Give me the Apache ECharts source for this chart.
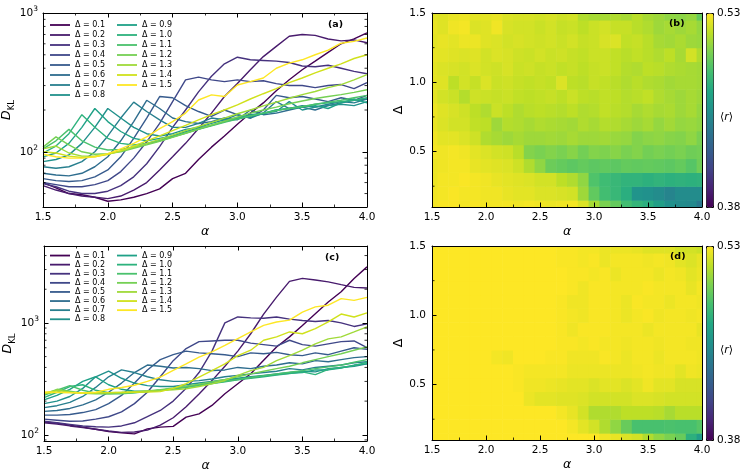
<!DOCTYPE html>
<html><head><meta charset="utf-8">
<script src="https://cdn.jsdelivr.net/npm/echarts@6/dist/echarts.min.js"></script>
<style>html,body{margin:0;padding:0;background:#fff}#c{width:748px;height:474px}</style>
</head><body><div id="c"></div>
<script>
// ---------------- data ----------------
const alpha = [1.5,1.6,1.7,1.8,1.9,2.0,2.1,2.2,2.3,2.4,2.5,2.6,2.7,2.8,2.9,3.0,3.1,3.2,3.3,3.4,3.5,3.6,3.7,3.8,3.9,4.0];
const deltas = [0.1,0.2,0.3,0.4,0.5,0.6,0.7,0.8,0.9,1.0,1.1,1.2,1.3,1.4,1.5];
const deltaNames = ['Δ = 0.1','Δ = 0.2','Δ = 0.3','Δ = 0.4','Δ = 0.5','Δ = 0.6','Δ = 0.7','Δ = 0.8','Δ = 0.9','Δ = 1.0','Δ = 1.1','Δ = 1.2','Δ = 1.3','Δ = 1.4','Δ = 1.5'];

// panel (a): D_KL per Δ
const a01 = [60,55,50,49,47,44,45,47,50,54,64,70,88,108,130,158,190,225,275,330,390,450,520,600,650,720];
const a02 = [57,53,50,48,47,46,48,53,60,74,92,115,147,190,250,310,390,485,575,680,700,690,650,630,640,610];
const a03 = [59,56,52,50,50,52,57,66,82,109,150,200,270,350,430,480,460,455,450,440,415,410,420,400,380,365];
const a04 = [60,58,56,56,58,62,72,90,118,160,230,330,345,330,320,330,320,325,310,300,300,290,300,305,285,315];
const a05 = [64,62,61,62,66,74,92,125,175,250,245,215,195,180,200,185,175,200,255,245,250,240,230,245,235,255];
const a06 = [70,68,67,70,78,92,120,165,235,205,175,165,160,165,175,170,200,185,190,200,210,200,215,225,235,240];
const a07 = [78,76,78,85,100,130,175,228,195,170,150,150,160,175,170,185,175,190,230,205,215,210,220,230,225,240];
const a08 = [85,88,95,115,150,205,175,150,135,130,135,145,150,160,170,175,185,190,195,230,200,210,215,220,215,230];
const a09 = [92,98,115,150,205,165,140,125,120,125,130,140,148,155,165,172,180,188,200,205,210,215,205,225,240,225];
const a10 = [98,110,135,185,150,125,115,112,115,120,128,137,146,155,165,175,182,190,200,205,210,220,225,230,235,245];
const a11 = [105,120,145,120,108,103,104,108,114,120,128,136,145,154,163,172,181,190,198,205,212,220,228,235,245,255];
const a12 = [108,128,112,100,96,97,100,106,112,119,127,136,146,156,166,178,190,200,210,222,232,242,250,258,268,280];
const a13 = [105,110,98,93,93,96,101,108,115,123,132,142,152,163,175,188,200,214,228,243,258,272,290,305,330,360];
const a14 = [100,98,93,91,92,96,102,110,120,130,142,155,170,185,200,218,240,262,285,315,340,370,400,430,470,500];
const a15 = [96,92,90,90,92,97,105,115,128,147,165,190,236,257,250,303,320,340,400,435,460,500,540,606,625,660];

// panel (c): D_KL per Δ
const c01 = [130,127,122,117,112,107,104,102,113,117,119,144,154,183,233,286,351,463,609,750,950,1210,1540,1900,2500,3170];
const c02 = [128,125,120,116,112,108,105,106,110,122,142,178,232,305,410,560,800,1200,1700,2350,2500,2420,2330,2200,2080,2050];
const c03 = [132,128,124,120,118,117,120,128,145,165,200,260,360,560,1000,1130,1110,1100,1130,1080,1050,1030,1050,1000,930,980];
const c04 = [138,135,132,133,138,145,160,190,240,330,460,590,680,690,700,700,660,640,620,700,640,620,650,680,690,600];
const c05 = [150,150,152,158,168,190,225,290,380,470,520,560,540,530,520,500,540,530,545,520,510,540,520,560,600,580];
const c06 = [162,165,172,185,205,240,290,360,420,410,395,400,390,375,380,400,390,410,420,440,430,460,450,470,490,500];
const c07 = [175,182,195,220,265,330,380,360,330,310,300,300,305,315,330,340,350,360,370,390,380,400,410,420,440,450];
const c08 = [190,200,220,260,330,370,320,290,275,270,270,280,290,300,310,320,330,340,350,360,370,365,390,400,410,430];
const c09 = [205,225,255,300,330,280,255,245,245,250,258,268,280,292,303,315,325,335,345,355,360,380,380,395,420,430];
const c10 = [215,240,270,280,250,238,235,238,243,250,258,266,276,287,298,310,320,330,342,352,365,345,385,400,415,445];
const c11 = [225,250,275,250,236,232,233,237,243,250,258,267,277,288,300,312,325,338,350,362,375,390,405,420,445,470];
const c12 = [230,255,245,235,232,233,236,240,246,253,262,272,284,297,312,330,350,370,390,410,440,470,500,530,570,610];
const c13 = [235,250,240,236,236,238,240,243,246,248,252,258,270,286,306,340,375,400,460,510,570,650,720,750,830,920];
const c14 = [235,240,238,236,237,238,239,240,241,243,260,286,328,375,430,510,570,700,750,830,800,890,1020,1200,1130,1230];
const c15 = [241,240,238,236,240,255,265,277,300,328,377,430,495,550,630,725,830,950,1020,1060,1250,1390,1440,1650,1590,1690];

// panel (b): <r> rows, Δ = 0.1 ... 1.5 (columns = alpha)
const b01 = [0.528,0.529,0.529,0.528,0.529,0.528,0.528,0.528,0.527,0.528,0.527,0.526,0.527,0.528,0.522,0.510,0.500,0.494,0.484,0.478,0.474,0.464,0.455,0.452,0.450,0.440];
const b02 = [0.527,0.528,0.529,0.528,0.528,0.527,0.527,0.525,0.524,0.524,0.522,0.522,0.521,0.520,0.508,0.493,0.484,0.480,0.474,0.457,0.455,0.452,0.447,0.452,0.452,0.452];
const b03 = [0.526,0.528,0.528,0.529,0.528,0.527,0.525,0.524,0.523,0.522,0.520,0.520,0.515,0.512,0.505,0.488,0.483,0.480,0.477,0.477,0.475,0.477,0.475,0.476,0.475,0.476];
const b04 = [0.526,0.527,0.528,0.528,0.525,0.524,0.523,0.522,0.519,0.512,0.505,0.496,0.494,0.492,0.494,0.492,0.493,0.492,0.494,0.493,0.494,0.493,0.492,0.494,0.490,0.497];
const b05 = [0.528,0.527,0.528,0.527,0.524,0.522,0.520,0.519,0.514,0.502,0.500,0.502,0.500,0.503,0.498,0.502,0.501,0.503,0.500,0.502,0.498,0.500,0.498,0.500,0.497,0.498];
const b06 = [0.527,0.524,0.524,0.522,0.519,0.512,0.510,0.508,0.510,0.508,0.508,0.509,0.508,0.510,0.508,0.508,0.509,0.507,0.506,0.502,0.504,0.505,0.503,0.502,0.505,0.500];
const b07 = [0.525,0.522,0.520,0.520,0.516,0.515,0.508,0.513,0.512,0.510,0.512,0.511,0.510,0.509,0.512,0.510,0.513,0.512,0.510,0.508,0.510,0.506,0.509,0.506,0.507,0.505];
const b08 = [0.526,0.523,0.521,0.519,0.515,0.512,0.518,0.515,0.512,0.514,0.515,0.514,0.513,0.515,0.512,0.513,0.516,0.514,0.513,0.510,0.512,0.510,0.511,0.508,0.510,0.506];
const b09 = [0.524,0.520,0.518,0.513,0.519,0.518,0.517,0.518,0.516,0.515,0.516,0.517,0.515,0.518,0.515,0.514,0.516,0.515,0.513,0.514,0.516,0.512,0.510,0.508,0.510,0.508];
const b10 = [0.524,0.523,0.515,0.520,0.517,0.522,0.518,0.519,0.517,0.516,0.517,0.516,0.522,0.515,0.514,0.517,0.516,0.514,0.512,0.514,0.512,0.511,0.509,0.510,0.510,0.509];
const b11 = [0.524,0.522,0.521,0.520,0.522,0.520,0.519,0.521,0.518,0.519,0.517,0.518,0.516,0.517,0.515,0.517,0.518,0.516,0.513,0.512,0.515,0.514,0.512,0.511,0.510,0.509];
const b12 = [0.525,0.524,0.523,0.522,0.523,0.520,0.522,0.521,0.519,0.518,0.520,0.518,0.519,0.517,0.516,0.518,0.518,0.516,0.514,0.516,0.514,0.512,0.515,0.510,0.520,0.512];
const b13 = [0.524,0.525,0.524,0.526,0.526,0.523,0.522,0.520,0.521,0.520,0.519,0.520,0.518,0.520,0.517,0.518,0.521,0.522,0.516,0.517,0.514,0.510,0.509,0.511,0.508,0.507];
const b14 = [0.525,0.523,0.527,0.528,0.522,0.523,0.527,0.521,0.520,0.520,0.518,0.520,0.517,0.518,0.515,0.518,0.520,0.517,0.517,0.514,0.512,0.508,0.510,0.508,0.510,0.506];
const b15 = [0.524,0.523,0.525,0.526,0.524,0.524,0.525,0.522,0.521,0.521,0.520,0.521,0.519,0.520,0.512,0.510,0.510,0.512,0.510,0.514,0.510,0.508,0.505,0.504,0.506,0.494];

// panel (d): <r> rows, Δ = 0.1 ... 1.5
const d01 = [0.530,0.530,0.530,0.530,0.530,0.530,0.530,0.530,0.530,0.530,0.530,0.530,0.530,0.530,0.530,0.530,0.527,0.525,0.522,0.520,0.512,0.505,0.500,0.495,0.475,0.462];
const d02 = [0.530,0.530,0.530,0.530,0.530,0.530,0.530,0.530,0.530,0.530,0.530,0.530,0.530,0.528,0.524,0.520,0.512,0.505,0.495,0.486,0.486,0.486,0.487,0.486,0.486,0.490];
const d03 = [0.530,0.530,0.530,0.530,0.530,0.530,0.530,0.530,0.530,0.530,0.530,0.530,0.528,0.525,0.520,0.512,0.512,0.512,0.515,0.515,0.515,0.514,0.510,0.514,0.514,0.514];
const d04 = [0.530,0.530,0.530,0.530,0.530,0.530,0.530,0.530,0.530,0.526,0.524,0.524,0.523,0.523,0.522,0.520,0.520,0.520,0.520,0.522,0.522,0.521,0.520,0.520,0.520,0.520];
const d05 = [0.530,0.530,0.530,0.530,0.530,0.530,0.530,0.530,0.529,0.527,0.527,0.526,0.525,0.524,0.524,0.522,0.524,0.524,0.522,0.524,0.527,0.524,0.524,0.521,0.521,0.521];
const d06 = [0.530,0.530,0.530,0.530,0.530,0.530,0.530,0.530,0.529,0.528,0.528,0.528,0.528,0.526,0.526,0.526,0.526,0.526,0.526,0.527,0.528,0.527,0.527,0.524,0.527,0.526];
const d07 = [0.530,0.530,0.530,0.530,0.530,0.530,0.528,0.527,0.530,0.530,0.530,0.529,0.529,0.527,0.527,0.527,0.529,0.528,0.526,0.528,0.528,0.526,0.528,0.528,0.528,0.527];
const d08 = [0.530,0.530,0.530,0.530,0.530,0.530,0.530,0.530,0.530,0.530,0.530,0.530,0.529,0.529,0.528,0.529,0.528,0.528,0.527,0.528,0.528,0.527,0.528,0.528,0.527,0.527];
const d09 = [0.530,0.530,0.530,0.530,0.530,0.530,0.530,0.530,0.530,0.530,0.530,0.530,0.529,0.527,0.529,0.529,0.529,0.528,0.528,0.528,0.526,0.528,0.528,0.528,0.528,0.525];
const d10 = [0.530,0.530,0.530,0.530,0.530,0.530,0.530,0.530,0.530,0.530,0.530,0.530,0.529,0.528,0.527,0.529,0.529,0.528,0.526,0.528,0.529,0.527,0.528,0.528,0.527,0.528];
const d11 = [0.530,0.530,0.530,0.530,0.530,0.530,0.530,0.530,0.530,0.530,0.530,0.530,0.529,0.527,0.527,0.529,0.529,0.528,0.526,0.529,0.528,0.528,0.526,0.528,0.528,0.527];
const d12 = [0.530,0.530,0.530,0.530,0.530,0.530,0.530,0.530,0.530,0.530,0.530,0.530,0.530,0.529,0.527,0.529,0.529,0.528,0.528,0.528,0.529,0.528,0.528,0.528,0.525,0.528];
const d13 = [0.530,0.530,0.530,0.530,0.530,0.530,0.530,0.530,0.530,0.530,0.530,0.530,0.530,0.529,0.529,0.528,0.529,0.526,0.528,0.528,0.528,0.526,0.528,0.527,0.524,0.526];
const d14 = [0.530,0.530,0.530,0.530,0.530,0.530,0.530,0.530,0.530,0.530,0.530,0.530,0.529,0.529,0.528,0.529,0.526,0.528,0.528,0.528,0.527,0.528,0.527,0.524,0.522,0.525];
const d15 = [0.530,0.530,0.530,0.530,0.530,0.530,0.530,0.530,0.530,0.530,0.530,0.530,0.529,0.529,0.528,0.528,0.526,0.526,0.526,0.525,0.523,0.523,0.523,0.520,0.520,0.518];

// axis decorations
const rMin = 0.38, rMax = 0.53;
const logMinorA = [50,60,70,80,90,200,300,400,500,600,700,800,900];
const logMinorC = [90,200,300,400,500,600,700,800,900,2000,3000,4000];
const deltaMinor = [0.25,0.75,1.25];

const seriesA = [a01,a02,a03,a04,a05,a06,a07,a08,a09,a10,a11,a12,a13,a14,a15];
const seriesC = [c01,c02,c03,c04,c05,c06,c07,c08,c09,c10,c11,c12,c13,c14,c15];
const rowsB = [b01,b02,b03,b04,b05,b06,b07,b08,b09,b10,b11,b12,b13,b14,b15];
const rowsD = [d01,d02,d03,d04,d05,d06,d07,d08,d09,d10,d11,d12,d13,d14,d15];

// ---------------- style ----------------
const FONT = 'DejaVu Sans';
const viridis = ['#440154','#482475','#414487','#355f8d','#2a788e','#21918c','#22a884','#44bf70','#7ad151','#bddf26','#fde725'];
const lineColors = ['#440154','#481b6d','#46327e','#3f4889','#375b8d','#2e6d8e','#277f8e','#21918c','#1fa187','#2db27d','#4ac16d','#75d054','#a0da39','#d0e11c','#fde725'];
const TL = 4.5, ML = 2.5;

const chart = echarts.init(document.getElementById('c'), null, {renderer: 'canvas'});

const grids = [
  {left: 43, top: 13, width: 324, height: 194},
  {left: 432, top: 13, width: 270, height: 194},
  {left: 44, top: 246, width: 323, height: 195},
  {left: 432, top: 246, width: 270, height: 194}
].map(g => Object.assign({show: false, outerBoundsMode: 'none'}, g));

const axLine = {show: true, onZero: false, lineStyle: {color: '#000', width: 1}};
const labelBase = {color: '#000', fontFamily: FONT, fontSize: 10.5};

function xAx(gridIndex, position, withLabels, withTicks) {
  return {
    type: 'value', gridIndex, position, z: 6,
    min: alpha[0], max: alpha[alpha.length - 1], interval: 0.5,
    axisLine: axLine,
    axisTick: {show: withTicks, inside: true, length: TL, lineStyle: {color: '#000', width: 1}},
    minorTick: {show: withTicks, splitNumber: 2, length: ML, lineStyle: {color: '#000', width: 0.8}},
    axisLabel: Object.assign({show: withLabels, margin: 5, formatter: v => v.toFixed(1)}, labelBase),
    splitLine: {show: false}, minorSplitLine: {show: false},
    name: withLabels ? 'α' : '', nameLocation: 'middle', nameGap: 18,
    nameTextStyle: {color: '#000', fontFamily: FONT, fontSize: 12.5, fontStyle: 'italic'}
  };
}
function powLabel(v) {
  const e = Math.log10(v), r = Math.round(e);
  if (Math.abs(e - r) > 1e-6) return '';
  return '{b|10}{s|' + r + '}';
}
function logY(gridIndex, position, min, max, withLabels) {
  return {
    type: 'log', logBase: 10, gridIndex, position, min, max, z: 6,
    axisLine: axLine,
    axisTick: {show: true, inside: true, length: TL, lineStyle: {color: '#000', width: 1}},
    minorTick: {show: false},
    axisLabel: {show: withLabels, margin: 5, formatter: powLabel, color: '#000',
      rich: {b: {fontFamily: FONT, fontSize: 10.5, color: '#000', lineHeight: 16, verticalAlign: 'middle'},
             s: {fontFamily: FONT, fontSize: 7.5, color: '#000', verticalAlign: 'top'}}},
    splitLine: {show: false},
    name: withLabels ? '{d|D}{k|KL}' : '', nameLocation: 'middle', nameGap: 20, nameRotate: 90,
    nameTextStyle: {color: '#000', rich: {
      d: {fontFamily: FONT, fontSize: 12.5, fontStyle: 'italic', color: '#000', lineHeight: 18, verticalAlign: 'middle'},
      k: {fontFamily: FONT, fontSize: 8.5, color: '#000', verticalAlign: 'bottom'}}}
  };
}
function deltaY(gridIndex, position, withLabels) {
  return {
    type: 'value', gridIndex, position, z: 6,
    min: deltas[0], max: deltas[deltas.length - 1], minInterval: 0.5, maxInterval: 0.5, splitNumber: 3,
    axisLine: axLine,
    axisTick: {show: withLabels, inside: true, length: TL, lineStyle: {color: '#000', width: 1}},
    minorTick: {show: false},
    axisLabel: Object.assign({show: withLabels, margin: 6,
      formatter: v => (Math.abs(v * 2 - Math.round(v * 2)) < 1e-6 ? v.toFixed(1) : '')}, labelBase),
    splitLine: {show: false},
    name: withLabels ? 'Δ' : '', nameLocation: 'middle', nameGap: 22,
    nameTextStyle: {color: '#000', fontFamily: FONT, fontSize: 12.5}
  };
}

const xAxis = [
  xAx(0, 'bottom', true, true), xAx(0, 'top', false, true),
  xAx(1, 'bottom', true, true), xAx(1, 'top', false, false),
  xAx(2, 'bottom', true, true), xAx(2, 'top', false, true),
  xAx(3, 'bottom', true, true), xAx(3, 'top', false, false)
];
const yAxis = [
  logY(0, 'left', 40, 1000, true), logY(0, 'right', 40, 1000, false),
  deltaY(1, 'left', true), deltaY(1, 'right', false),
  logY(2, 'left', 88, 4870, true), logY(2, 'right', 88, 4870, false),
  deltaY(3, 'left', true), deltaY(3, 'right', false)
];

const series = [];
function addLines(list, axisIdx) {
  list.forEach((arr, k) => {
    series.push({
      type: 'line', name: deltaNames[k], xAxisIndex: axisIdx, yAxisIndex: axisIdx,
      data: alpha.map((a, i) => [a, arr[i]]),
      symbol: 'none', showSymbol: false, silent: true, animation: false, z: 2,
      lineStyle: {color: lineColors[k], width: 1.4}, itemStyle: {color: lineColors[k]},
      emphasis: {disabled: true}
    });
  });
}
addLines(seriesA, 0);
addLines(seriesC, 4);

const halfA = (alpha[1] - alpha[0]) / 2, halfD = (deltas[1] - deltas[0]) / 2;
function renderCell(params, api) {
  const a = api.value(0), d = api.value(1);
  const p0 = api.coord([a - halfA, d + halfD]);
  const p1 = api.coord([a + halfA, d - halfD]);
  const cs = params.coordSys;
  const shape = echarts.graphic.clipRectByRect(
    {x: p0[0], y: p0[1], width: p1[0] - p0[0] + 0.6, height: p1[1] - p0[1] + 0.6},
    {x: cs.x, y: cs.y, width: cs.width, height: cs.height});
  return shape && {type: 'rect', shape, style: {fill: api.visual('color')}};
}
function heat(rows, axisIdx) {
  const data = [];
  rows.forEach((row, j) => row.forEach((v, i) => data.push([alpha[i], deltas[j], v])));
  return {type: 'custom', xAxisIndex: axisIdx, yAxisIndex: axisIdx, data, renderItem: renderCell,
    encode: {x: 0, y: 1}, silent: true, animation: false, z: 1};
}
const idxB = series.length; series.push(heat(rowsB, 2));
const idxD = series.length; series.push(heat(rowsD, 6));

function minorTicks(axisIdx, vals, both) {
  return {
    type: 'custom', xAxisIndex: axisIdx, yAxisIndex: axisIdx, silent: true, z: 7, clip: false, animation: false,
    data: vals.map(v => [alpha[0], v]), encode: {x: 0, y: 1},
    renderItem(params, api) {
      const cs = params.coordSys;
      const y = api.coord([api.value(0), api.value(1)])[1];
      const st = {stroke: '#000', lineWidth: 0.8};
      const ch = [{type: 'line', shape: {x1: cs.x, y1: y, x2: cs.x + ML, y2: y}, style: st}];
      if (both) ch.push({type: 'line', shape: {x1: cs.x + cs.width - ML, y1: y, x2: cs.x + cs.width, y2: y}, style: st});
      return {type: 'group', children: ch};
    }
  };
}
series.push(minorTicks(0, logMinorA, true));
series.push(minorTicks(4, logMinorC, true));
series.push(minorTicks(2, deltaMinor, false));
series.push(minorTicks(6, deltaMinor, false));

function cbar(seriesIndex, top) {
  return {type: 'continuous', seriesIndex, dimension: 2, min: rMin, max: rMax, orient: 'vertical',
    left: 706, top, itemWidth: 7, itemHeight: 194, calculable: false, realtime: false, hoverLink: false,
    padding: 0, borderColor: '#000', borderWidth: 1, inRange: {color: viridis}, z: 6};
}

function leg(names, left, top, lh) {
  return {data: names, orient: 'vertical', left, top, itemWidth: 20, itemHeight: 1.8, itemGap: 1,
    icon: 'rect', padding: 0, selectedMode: false,
    textStyle: {color: '#000', fontFamily: FONT, fontSize: 8, lineHeight: lh, padding: [0, 0, 0, 0]}};
}

function txt(x, y, text, extra) {
  return {type: 'text', x, y, silent: true, z: 20,
    style: Object.assign({text, fill: '#000', fontFamily: FONT, fontSize: 10.5, verticalAlign: 'middle', align: 'left'}, extra || {})};
}
const rLabel = {rich: {i: {fontStyle: 'italic', fontFamily: FONT, fontSize: 11, fill: '#000'}}, fontSize: 11};

chart.setOption({
  animation: false,
  backgroundColor: '#fff',
  grid: grids,
  xAxis, yAxis, series,
  visualMap: [cbar(idxB, 13), cbar(idxD, 246)],
  legend: [
    leg(deltaNames.slice(0, 8), 50, 20.5, 9), leg(deltaNames.slice(8), 117, 20.5, 9),
    leg(deltaNames.slice(0, 8), 50, 251.5, 8.1), leg(deltaNames.slice(8), 117, 251.5, 8.1)
  ],
  graphic: {elements: [
    txt(328, 24.5, '(a)', {fontWeight: 'bold', fontSize: 9.5}),
    txt(669, 24, '(b)', {fontWeight: 'bold', fontSize: 9.5}),
    txt(325, 258, '(c)', {fontWeight: 'bold', fontSize: 9.5}),
    txt(670, 257, '(d)', {fontWeight: 'bold', fontSize: 9.5}),
    txt(717, 13, String(rMax)), txt(717, 207, String(rMin)),
    txt(717, 246, String(rMax)), txt(717, 440, String(rMin)),
    txt(720, 117, '⟨{i|r}⟩', rLabel), txt(720, 350, '⟨{i|r}⟩', rLabel)
  ]}
});
</script>
</body></html>
